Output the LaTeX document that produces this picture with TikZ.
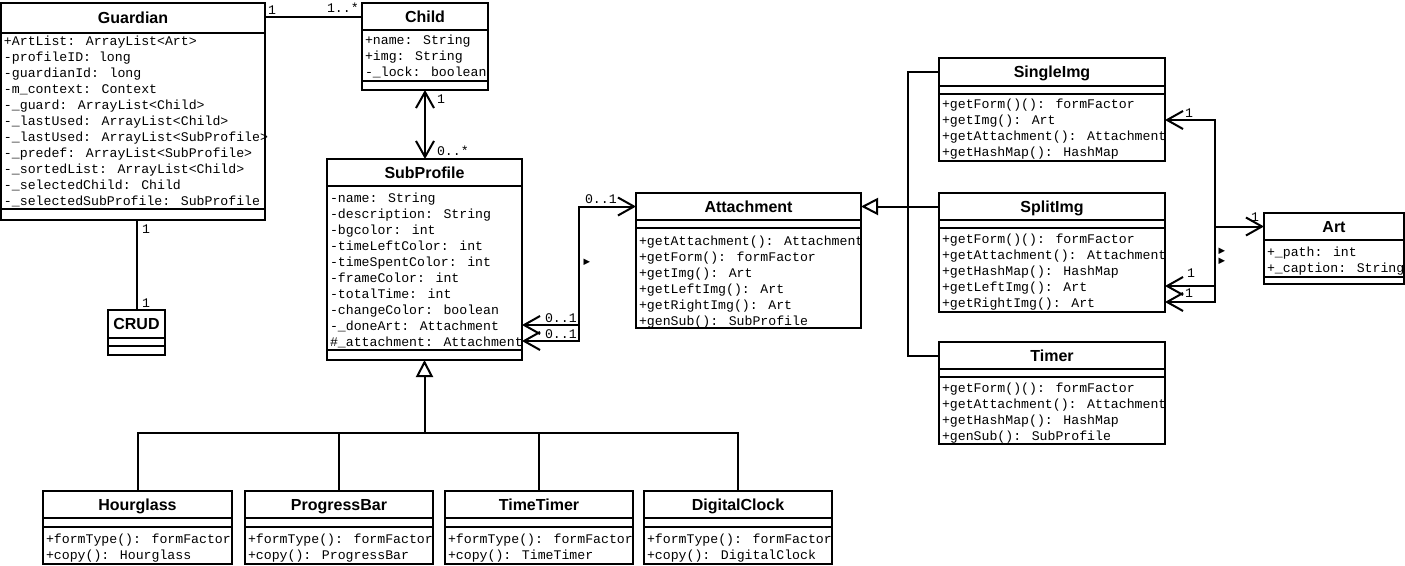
\documentclass[tikz,border=0pt]{standalone}
\usepackage{fontspec}
\setmainfont{Liberation Sans}
\newfontfamily\monof{Liberation Mono}
\newfontfamily\symf{DejaVu Sans}
\usetikzlibrary{arrows.meta}
\tikzset{
  box/.style={draw, line width=2pt, inner sep=0pt, outer sep=0pt, anchor=north west},
  ctitle/.style={inner sep=0pt, outer sep=0pt, anchor=north west, font=\bfseries\fontsize{16}{16}\selectfont, text height=11.5pt, text depth=0pt},
  sepl/.style={line width=2pt},
  attr/.style={inner sep=0pt, outer sep=0pt, anchor=base west, font=\monof\fontsize{13.2}{15}\selectfont},
  mult/.style={attr},
  dirmark/.style={inner sep=0pt, outer sep=0pt, font=\symf\fontsize{8.5}{9}\selectfont},
  conn/.style={line width=2pt},
  openbarb/.tip={Straight Barb[length=16pt,width=18pt]},
  gentri/.tip={Triangle[open,length=17pt,width=17pt]},
}
\newcommand\umlclass[7]{%
  \node[box, minimum width={#4-#2}, minimum height={#5-#3}] (#1) at (#2,#3) {};
  \node[ctitle, minimum width={#4-#2}, minimum height={#6-#3}] (#1T) at (#2,#3) {#7};
  \draw[sepl] (#1T.south west) -- (#1T.south east);
}
\newcommand\hsep[2]{\draw[sepl] (#1.west |- 0,#2) -- (#1.east |- 0,#2);}
\newcommand\attrlines[4]{%
  \foreach \t [count=\i] in {#4} {\node[attr] (#1\i) at (#2,{#3+5+16*(\i-1)}) {\t};}
}
\begin{document}
\begin{tikzpicture}[x=1pt,y=-1pt]
\useasboundingbox (0,0) rectangle (1405,565);
\fill[white] (0,0) rectangle (1405,565);

% Guardian
\umlclass{guard}{1}{3}{265}{220}{33}{Guardian}
\hsep{guard}{209}
\attrlines{ga}{4}{40}{+ArtList: ArrayList<Art>,-profileID: long,-guardianId: long,-m\_context: Context,-\_guard: ArrayList<Child>,-\_lastUsed: ArrayList<Child>,-\_lastUsed: ArrayList<SubProfile>,-\_predef: ArrayList<SubProfile>,-\_sortedList: ArrayList<Child>,-\_selectedChild: Child,-\_selectedSubProfile: SubProfile}

% Child
\umlclass{child}{362}{3}{488}{90}{30}{Child}
\hsep{child}{81}
\attrlines{ca}{365}{39}{+name: String,+img: String,-\_lock: boolean}

% SubProfile
\umlclass{sub}{327}{159}{522}{360}{186}{SubProfile}
\hsep{sub}{350}
\attrlines{sa}{330}{197.5}{-name: String,-description: String,-bgcolor: int,-timeLeftColor: int,-timeSpentColor: int,-frameColor: int,-totalTime: int,-changeColor: boolean,-\_doneArt: Attachment,\#\_attachment: Attachment}

% Attachment
\umlclass{att}{636}{193}{861}{328}{220}{Attachment}
\hsep{att}{228}
\attrlines{am}{639}{240}{+getAttachment(): Attachment,+getForm(): formFactor,+getImg(): Art,+getLeftImg(): Art,+getRightImg(): Art,+genSub(): SubProfile}

% SingleImg
\umlclass{single}{939}{58}{1165}{161}{86}{SingleImg}
\hsep{single}{94}
\attrlines{sim}{942}{103}{+getForm()(): formFactor,+getImg(): Art,+getAttachment(): Attachment,+getHashMap(): HashMap}

% SplitImg
\umlclass{split}{939}{193}{1165}{312}{220}{SplitImg}
\hsep{split}{228}
\attrlines{spm}{942}{238}{+getForm()(): formFactor,+getAttachment(): Attachment,+getHashMap(): HashMap,+getLeftImg(): Art,+getRightImg(): Art}

% Timer
\umlclass{timer}{939}{342}{1165}{444}{369}{Timer}
\hsep{timer}{377}
\attrlines{tm}{942}{387}{+getForm()(): formFactor,+getAttachment(): Attachment,+getHashMap(): HashMap,+genSub(): SubProfile}

% Art
\umlclass{art}{1264}{213}{1404}{284}{240}{Art}
\hsep{art}{277}
\attrlines{ara}{1267}{251}{+\_path: int,+\_caption: String}

% CRUD
\umlclass{crud}{108}{310}{165}{355}{338}{CRUD}
\hsep{crud}{346}

% bottom subclasses
\umlclass{hour}{43}{491}{232}{564}{518}{Hourglass}
\hsep{hour}{527}
\attrlines{hm}{46}{538}{+formType(): formFactor,+copy(): Hourglass}
\umlclass{prog}{245}{491}{433}{564}{518}{ProgressBar}
\hsep{prog}{527}
\attrlines{pm}{248}{538}{+formType(): formFactor,+copy(): ProgressBar}
\umlclass{ttim}{445}{491}{633}{564}{518}{TimeTimer}
\hsep{ttim}{527}
\attrlines{ttm}{448}{538}{+formType(): formFactor,+copy(): TimeTimer}
\umlclass{dclk}{644}{491}{832}{564}{518}{DigitalClock}
\hsep{dclk}{527}
\attrlines{dm}{647}{538}{+formType(): formFactor,+copy(): DigitalClock}

% Guardian - Child
\draw[conn] (guard.east |- childT.west) -- (childT.west);
\node[mult] (m1) at (268,14) {1};
\node[mult] (m2) at (327,12) {1..*};

% Child - SubProfile
\draw[conn, openbarb-openbarb] (child.south) -- (child.south |- sub.north);
\node[mult] (m3) at (437,103) {1};
\node[mult] (m4) at (437,155) {0..*};

% Guardian - CRUD
\draw[conn] (guard.south -| crud.north) -- (crud.north);
\node[mult] (m5) at (142,233) {1};
\node[mult] (m6) at (142,307) {1};

% SubProfile - Attachment
\coordinate (saj) at (579,325);
\draw[conn, openbarb-openbarb] (sub.east |- 0,325) -- (saj) |- (attT.west);
\draw[conn, openbarb-] (sub.east |- 0,341) -| (saj);
\node[mult] (m7) at (585,203) {0..1};
\node[mult] (m8) at (545,322) {0..1};
\node[mult] (m9) at (545,338) {0..1};
\node[dirmark] (d1) at (587,262) {▶};

% generalization SubProfile
\coordinate (gj) at (424.5,433);
\draw[conn, -gentri] (gj) -- (sub.south);
\draw[conn] (hour.north) |- (gj);
\draw[conn] (prog.north) |- (gj);
\draw[conn] (ttim.north) |- (gj);
\draw[conn] (dclk.north) |- (gj);

% generalization Attachment
\coordinate (aj) at (908,206.5);
\draw[conn, -gentri] (aj) -- (attT.east);
\draw[conn] (singleT.west) -| (aj);
\draw[conn] (splitT.west) -- (aj);
\draw[conn] (timerT.west) -| (aj);

% Art associations
\coordinate (artj) at (1215,226.5);
\draw[conn, -openbarb] (artj) -- (artT.west);
\draw[conn, openbarb-] (single.east |- 0,120) -| (artj);
\draw[conn, openbarb-] (split.east |- 0,286) -| (artj);
\draw[conn, openbarb-] (split.east |- 0,302) -| (artj);
\node[mult] (m10) at (1185,117) {1};
\node[mult] (m11) at (1187,277) {1};
\node[mult] (m12) at (1185,297) {1};
\node[mult] (m13) at (1251,221) {1};
\node[dirmark] (d2) at (1222,251) {▶};
\node[dirmark] (d3) at (1222,261.5) {▶};
\end{tikzpicture}
\end{document}
